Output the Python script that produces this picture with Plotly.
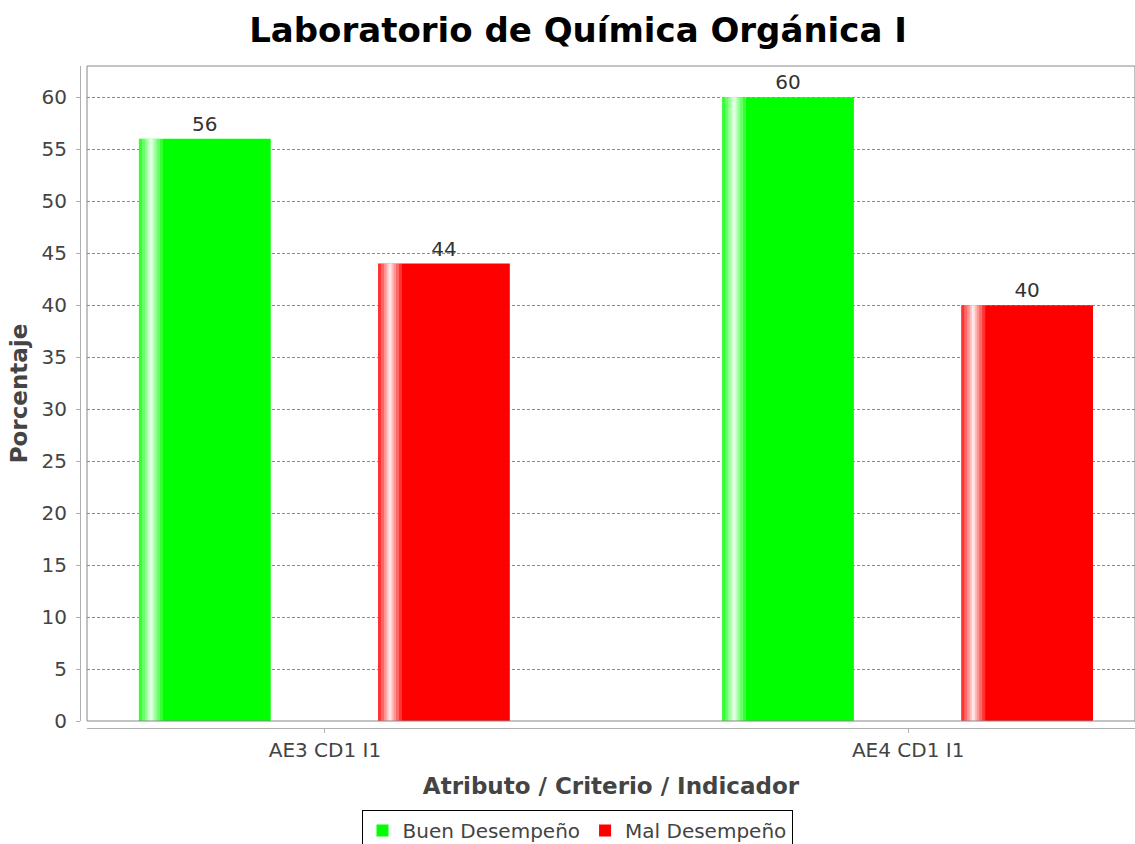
"""
Bar chart: buen vs mal desempeño per atributo / criterio / indicador
Laboratorio de Química Orgánica I
"""
import plotly.graph_objects as go

categories = ['AE3 CD1 I1', 'AE4 CD1 I1']
buen = [56, 60]
mal = [44, 40]

GREEN = '#00ff00'
RED = '#ff0000'
BAR_W = 0.226
# px per category unit is ~583, used to place the highlight stripe
PX = 1 / 583.0


def add_bar(fig, values, color, name, offset):
    fig.add_trace(go.Bar(
        x=categories, y=values, name=name, marker=dict(color=color, line=dict(width=0)),
        width=BAR_W, offset=offset, text=values, textposition='outside',
        textfont=dict(family='DejaVu Sans', size=20, color='#333333'),
        cliponaxis=False, hoverinfo='x+y'))
    # fake the JFreeChart gradient: white stripe near the left edge
    for w_px, alpha in [(24, 0.2), (18, 0.25), (12, 0.3), (7, 0.4), (3, 0.6)]:
        fig.add_trace(go.Bar(
            x=categories, y=values, showlegend=False, hoverinfo='skip',
            marker=dict(color=f'rgba(255,255,255,{alpha})', line=dict(width=0)),
            width=w_px * PX, offset=offset + (12 - w_px / 2) * PX))


fig = go.Figure()
add_bar(fig, buen, GREEN, 'Buen Desempeño', -0.319)
add_bar(fig, mal, RED, 'Mal Desempeño', 0.091)

fig.update_layout(
    barmode='overlay',
    width=1135, height=844,
    margin=dict(l=80, r=0, t=66, b=116),
    paper_bgcolor='white', plot_bgcolor='white',
    font=dict(family='DejaVu Sans', color='#444444'),
    title=dict(text='<b>Laboratorio de Química Orgánica I</b>', x=578 / 1135, xref='container',
               xanchor='center', y=1 - 30 / 844, yanchor='middle',
               font=dict(family='DejaVu Sans', size=34, color='black')),
    legend=dict(orientation='h', x=577 / 1135, xref='container', xanchor='center',
                y=1 - 810 / 844, yref='container', yanchor='top',
                bordercolor='black', borderwidth=1, bgcolor='white',
                font=dict(family='DejaVu Sans', size=20, color='#444444'),
                itemwidth=30, tracegroupgap=0),
)

fig.update_xaxes(
    domain=[7 / 1055, 1], anchor='free', position=0,
    range=[-0.408, 1.389], showgrid=False,
    showline=True, linecolor='#b0b0b0', linewidth=1,
    ticks='outside', ticklen=4, tickcolor='#b0b0b0',
    tickfont=dict(size=20, color='#444444'),
    title=dict(text='<b>Atributo / Criterio / Indicador</b>', standoff=16,
               font=dict(size=23, color='#444444')))
fig.update_yaxes(
    domain=[7 / 662, 1], anchor='free', position=0,
    range=[0, 63], dtick=5, zeroline=False,
    showgrid=True, gridcolor='#8c8c8c', gridwidth=1, griddash='3px,2px',
    showline=True, linecolor='#b0b0b0', linewidth=1,
    ticks='outside', ticklen=4, tickcolor='#b0b0b0', ticklabelstandoff=5,
    tickfont=dict(size=20, color='#444444'),
    title=dict(text='<b>Porcentaje</b>', standoff=6,
               font=dict(size=23, color='#444444')))

# plot area outline
fig.add_shape(type='rect', xref='x domain', yref='y domain', x0=0, x1=1, y0=0, y1=1,
              line=dict(color='#888888', width=1), layer='above')

# drop the browser's default body margin so the figure sits at the page corner
fig.write_html('out.html', config={'displayModeBar': False},
               post_script="document.body.style.margin='0';")
